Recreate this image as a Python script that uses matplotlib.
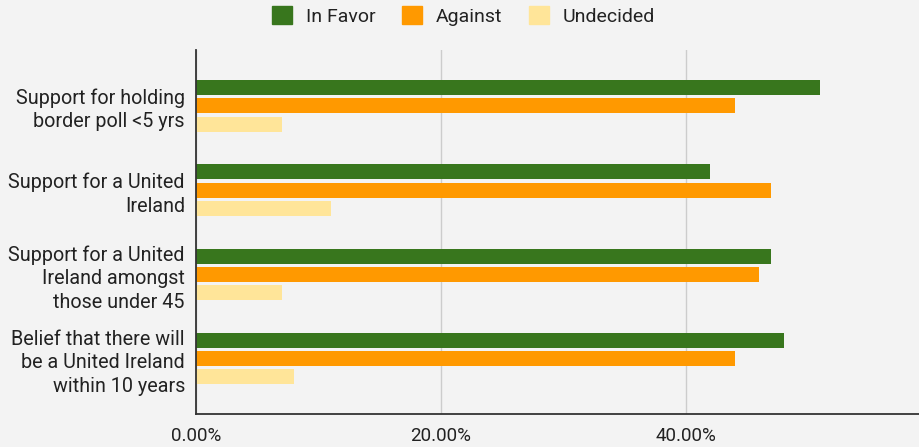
import matplotlib

matplotlib.use("Agg")

import matplotlib.pyplot as plt
import numpy as np
from matplotlib.patches import Patch
from matplotlib.ticker import PercentFormatter

plt.rcParams["font.family"] = ["Roboto", "DejaVu Sans"]

categories = [
    "Support for holding\nborder poll <5 yrs",
    "Support for a United\nIreland",
    "Support for a United\nIreland amongst\nthose under 45",
    "Belief that there will\nbe a United Ireland\nwithin 10 years",
]
series_names = ["In Favor", "Against", "Undecided"]
in_favor = [51, 42, 47, 48]
against = [44, 47, 46, 44]
undecided = [7, 11, 7, 8]
x_ticks = [0, 20, 40]

colors = ["#38761d", "#ff9900", "#ffe599"]
bg = "#f3f3f3"

fig = plt.figure(figsize=(9.2, 4.47), dpi=100, facecolor=bg)
W, H = 920, 447
left, right, top, bottom = 196, 920, 50, 414.3
ax = fig.add_axes([left / W, 1 - bottom / H, (right - left) / W, (bottom - top) / H])
ax.set_facecolor(bg)

y = np.arange(len(categories))
bar_h = 0.178
offset = 0.217
for i, (vals, c) in enumerate(zip([in_favor, against, undecided], colors)):
    ax.barh(y + (i - 1) * offset, vals, height=bar_h, color=c, label=series_names[i], zorder=3)

ax.set_yticks(y)
ax.set_yticklabels(categories, fontsize=14.2, color="#222222", linespacing=1.3)
ax.set_xticks(x_ticks)
ax.xaxis.set_major_formatter(PercentFormatter(xmax=100, decimals=2))
ax.tick_params(axis="x", length=0, labelsize=13.5, labelcolor="#222222", pad=9)
ax.tick_params(axis="y", length=0, pad=8)
ax.grid(axis="x", color="#cccccc", linewidth=1, zorder=0)

# limits after ticks so set_xticks does not widen the view
px_per_unit = 84.3
ax.set_ylim(3 + (bottom - 358.7) / px_per_unit, -(105.7 - top) / px_per_unit)
ax.set_xlim(0, (right - left) / 12.24)

for s in ["top", "right"]:
    ax.spines[s].set_visible(False)
for s in ["left", "bottom"]:
    ax.spines[s].set_color("#333333")
    ax.spines[s].set_linewidth(1.3)
    ax.spines[s].set_zorder(4)

handles = [Patch(facecolor=c, edgecolor=c, label=n) for c, n in zip(colors, series_names)]
fig.legend(handles=handles, loc="center", bbox_to_anchor=(0.504, 1 - 16 / H), ncol=3,
           frameon=False, fontsize=14, handlelength=1.03, handleheight=1.0,
           handletextpad=0.72, columnspacing=1.34, labelcolor="#222222")

fig.savefig("out.png", dpi=100, facecolor=bg)
